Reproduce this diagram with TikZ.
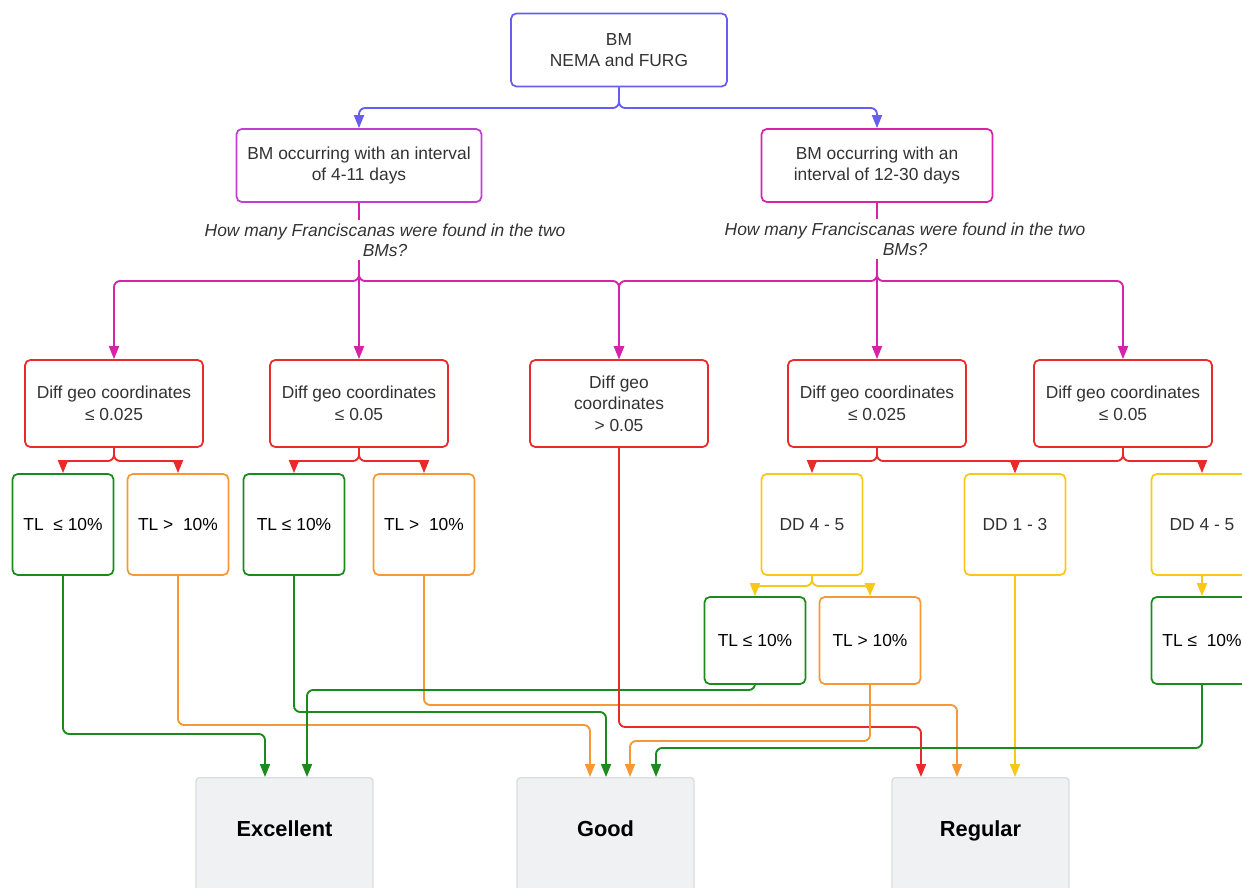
\documentclass[tikz,border=0pt]{standalone}
\usepackage{fontspec}
\setmainfont{Liberation Sans}
\usetikzlibrary{arrows.meta}
\definecolor{bmblue}{RGB}{102,94,240}
\definecolor{intpurple}{RGB}{192,62,212}
\definecolor{intmag}{RGB}{214,36,170}
\definecolor{geored}{RGB}{232,42,42}
\definecolor{tlgreen}{RGB}{28,138,28}
\definecolor{tlorange}{RGB}{247,152,52}
\definecolor{ddyellow}{RGB}{247,200,22}
\definecolor{outfill}{RGB}{240,241,243}
\definecolor{outedge}{RGB}{218,220,225}
\definecolor{darktext}{RGB}{50,50,50}
\begin{document}
\begin{tikzpicture}[x=0.02cm,y=-0.02cm,
    box/.style={draw,rounded corners=3pt,line width=1pt,align=center,inner sep=0pt,
        text=darktext,font=\fontsize{9.9}{12.2}\selectfont},
    geobox/.style={box,draw=geored,minimum width=3.56cm,minimum height=1.74cm},
    tlbox/.style={box,text=black,minimum width=2.02cm,minimum height=2.02cm},
    ask/.style={align=center,inner sep=2pt,text=darktext,font=\itshape\fontsize{9.9}{11.4}\selectfont},
    outbox/.style={draw=outedge,fill=outfill,rounded corners=2pt,line width=0.8pt,
        minimum width=3.54cm,minimum height=2.6cm,anchor=north,text height=9pt,text depth=16.2pt,
        font=\bfseries\fontsize{12.4}{14}\selectfont},
    link/.style={line width=1.05pt,rounded corners=3.5pt,-{Triangle[length=0.26cm,width=0.2cm]}},
    plain/.style={line width=1.05pt}]
\useasboundingbox (0,0) rectangle (1242,888);

\node[box,draw=bmblue,minimum width=4.32cm,minimum height=1.46cm] (bm) at (619,50) {BM\\NEMA and FURG};
\node[box,draw=intpurple,minimum width=4.9cm,minimum height=1.46cm] (L1) at (359,165.5) {BM occurring with an interval\\of 4-11 days};
\node[box,draw=intmag,minimum width=4.62cm,minimum height=1.46cm] (R1) at (877,165.5) {BM occurring with an\\interval of 12-30 days};
\node[ask] (q1) at (385,240) {How many Franciscanas were found in the two\\BMs?};
\node[ask] (q2) at (905,239) {How many Franciscanas were found in the two\\BMs?};

\node[geobox] (D1) at (114,403.5) {Diff geo coordinates\\≤ 0.025};
\node[geobox] (D2) at (359,403.5) {Diff geo coordinates\\≤ 0.05};
\node[geobox] (D3) at (619,403.5) {Diff geo\\coordinates\\> 0.05};
\node[geobox] (D4) at (877,403.5) {Diff geo coordinates\\≤ 0.025};
\node[geobox] (D5) at (1123,403.5) {Diff geo coordinates\\≤ 0.05};

\node[tlbox,draw=tlgreen] (T1) at (63,524.5) {TL\ \ ≤ 10\%};
\node[tlbox,draw=tlorange] (T2) at (178,524.5) {TL > \ 10\%};
\node[tlbox,draw=tlgreen] (T3) at (294,524.5) {TL ≤ 10\%};
\node[tlbox,draw=tlorange] (T4) at (424,524.5) {TL > \ 10\%};
\node[tlbox,draw=ddyellow,text=darktext] (DDa) at (812,524.5) {DD 4 - 5};
\node[tlbox,draw=ddyellow,text=darktext] (DDm) at (1015,524.5) {DD 1 - 3};
\node[tlbox,draw=ddyellow,text=darktext] (DDb) at (1202,524.5) {DD 4 - 5};
\node[tlbox,draw=tlgreen,minimum height=1.74cm] (T5) at (755,640.5) {TL ≤ 10\%};
\node[tlbox,draw=tlorange,minimum height=1.74cm] (T6) at (870,640.5) {TL > 10\%};
\node[tlbox,draw=tlgreen,minimum height=1.74cm] (T7) at (1202,640.5) {TL ≤\ \ 10\%};

\node[outbox] (exc) at (284.5,777) {Excellent};
\node[outbox] (good) at (605.5,777) {Good};
\node[outbox] (reg) at (980.5,777) {Regular};

\draw[link,bmblue] (bm) -- (619,108) -| (L1);
\draw[link,bmblue] (bm) -- (619,108) -| (R1);

\draw[plain,intmag] (L1) -- (L1.south |- q1.north);
\draw[plain,intmag] (R1) -- (R1.south |- q2.north);
\draw[link,intmag] (L1.south |- q1.south) -- (359,281) -| (D1);
\draw[link,intmag] (L1.south |- q1.south) -- (D2);
\draw[link,intmag] (L1.south |- q1.south) -- (359,281) -| (D3);
\draw[link,intmag] (R1.south |- q2.south) -- (877,281) -| (D3);
\draw[link,intmag] (R1.south |- q2.south) -- (D4);
\draw[link,intmag] (R1.south |- q2.south) -- (877,281) -| (D5);

\draw[link,geored] (D1) -- (114,461) -| (T1);
\draw[link,geored] (D1) -- (114,461) -| (T2);
\draw[link,geored] (D2) -- (359,461) -| (T3);
\draw[link,geored] (D2) -- (359,461) -| (T4);
\draw[link,geored] (D4) -- (877,461) -| (DDa);
\draw[link,geored] (D4) -- (877,461) -| (DDm);
\draw[link,geored] (D5) -- (1123,461) -| (DDm);
\draw[link,geored] (D5) -- (1123,461) -| (DDb);

\draw[link,ddyellow] (DDa) -- (812,586) -| (T5);
\draw[link,ddyellow] (DDa) -- (812,586) -| (T6);
\draw[link,ddyellow] (DDb) -- (T7);

\draw[link,tlgreen] (T1) -- (T1.south |- 0,734) -| (exc.north -| 265,0);
\draw[link,tlorange] (T2) -- (T2.south |- 0,725) -| (good.north -| 590,0);
\draw[link,tlgreen] (T3) -- (T3.south |- 0,712) -| (good.north -| 606,0);
\draw[link,tlorange] (T4) -- (T4.south |- 0,705) -| (reg.north -| 957,0);
\draw[link,tlgreen] (T5) -- (T5.south |- 0,690) -| (exc.north -| 307,0);
\draw[link,geored] (D3) -- (D3.south |- 0,727) -| (reg.north -| 921,0);
\draw[link,tlorange] (T6) -- (T6.south |- 0,741) -| (good.north -| 630,0);
\draw[link,ddyellow] (DDm) -- (DDm.south |- reg.north);
\draw[link,tlgreen] (T7) -- (T7.south |- 0,748) -| (good.north -| 656,0);
\end{tikzpicture}
\end{document}
